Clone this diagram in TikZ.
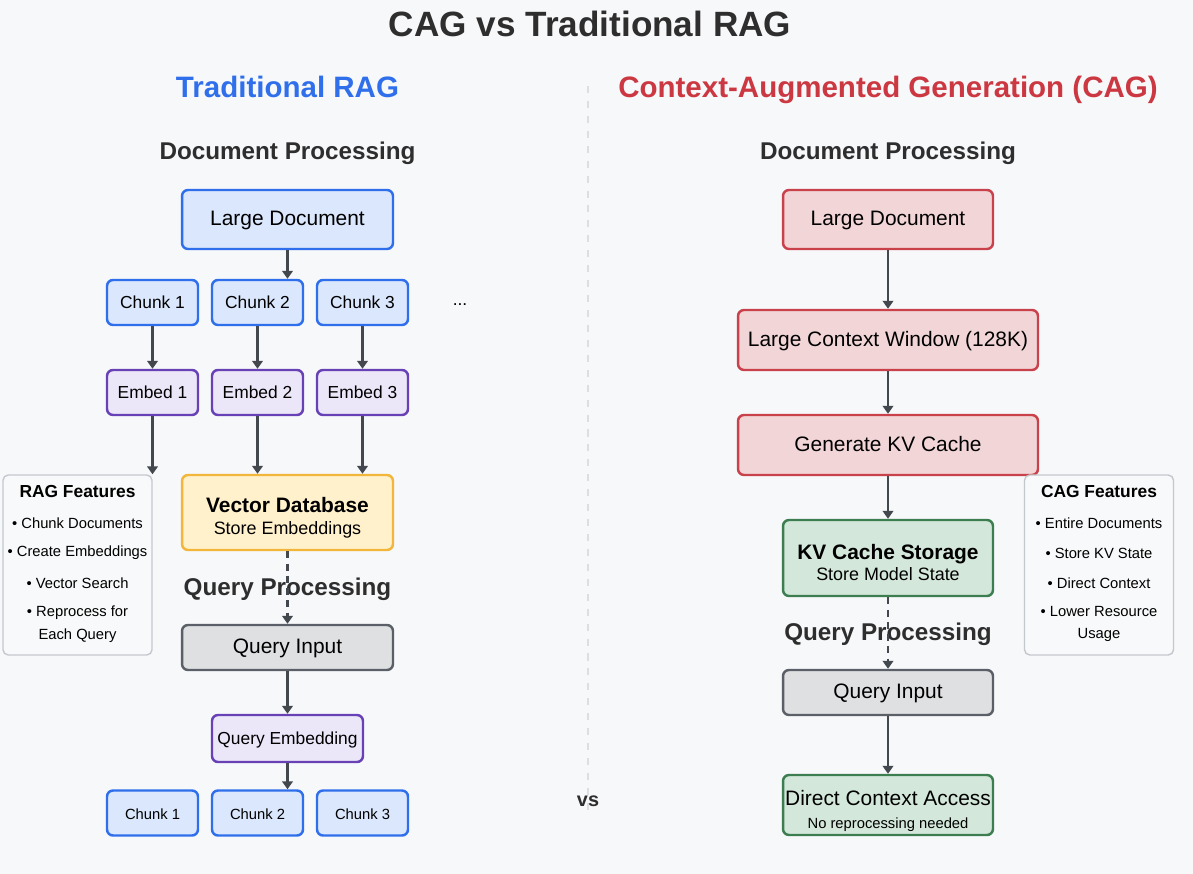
\documentclass[tikz,border=0pt]{standalone}
\usepackage{fontspec}
\setmainfont{Liberation Sans}
\usepackage{tikz}
\usetikzlibrary{arrows.meta}
\usetikzlibrary{positioning}

\definecolor{bgcol}{HTML}{F7F8FA}
\definecolor{ragblue}{HTML}{2F6FEB}
\definecolor{ragbluefill}{HTML}{DAE7FC}
\definecolor{embpurple}{HTML}{6741B5}
\definecolor{embpurplefill}{HTML}{EBE6F8}
\definecolor{dbyellow}{HTML}{F2B63A}
\definecolor{dbyellowfill}{HTML}{FFF1CC}
\definecolor{cagred}{HTML}{C8414B}
\definecolor{cagredfill}{HTML}{F2D5D7}
\definecolor{cagtitle}{HTML}{CC3841}
\definecolor{kvgreen}{HTML}{3C7E50}
\definecolor{kvgreenfill}{HTML}{D3E7DA}
\definecolor{qgray}{HTML}{5B6068}
\definecolor{qgrayfill}{HTML}{DFE0E2}
\definecolor{arrowgray}{HTML}{43474E}
\definecolor{headgray}{HTML}{2E2E2E}
\definecolor{featgray}{HTML}{C4C7CC}
\definecolor{featfill}{HTML}{F8F9FA}
\definecolor{sepgray}{HTML}{DDDEE1}

\newcommand{\ftitle}{\fontsize{20}{24}\selectfont\bfseries}
\newcommand{\fcol}{\fontsize{16.8}{20}\selectfont\bfseries}
\newcommand{\fhead}{\fontsize{13.8}{16}\selectfont\bfseries}
\newcommand{\fmain}{\fontsize{11.9}{13}\selectfont}
\newcommand{\fsub}{\fontsize{10.2}{12}\selectfont}
\newcommand{\fchunk}{\fontsize{9.9}{12}\selectfont}
\newcommand{\fsmall}{\fontsize{8.4}{10}\selectfont}

\begin{document}
\begin{tikzpicture}
  [x=0.02cm,y=-0.02cm,
  box/.style={draw,rounded corners=3.4pt,line width=1.4pt,align=center,inner sep=1pt,text=black},
  oneline/.style={text height=0.9em,text depth=0.21em},
  bluebox/.style={box,draw=ragblue,fill=ragbluefill},
  purplebox/.style={box,draw=embpurple,fill=embpurplefill},
  redbox/.style={box,oneline,draw=cagred,fill=cagredfill,font=\fmain},
  greenbox/.style={box,draw=kvgreen,fill=kvgreenfill},
  graybox/.style={box,oneline,draw=qgray,fill=qgrayfill,font=\fmain},
  chunkbox/.style={bluebox,oneline,minimum width=1.82cm,minimum height=0.9cm,font=\fchunk},
  embedbox/.style={purplebox,oneline,minimum width=1.82cm,minimum height=0.9cm,font=\fchunk},
  featbox/.style={draw=featgray,fill=featfill,rounded corners=3pt,line width=0.8pt,minimum width=2.98cm,minimum height=3.6cm},
  feattitle/.style={font=\fchunk\bfseries,text=black},
  featitem/.style={font=\fsmall,text=black,align=center},
  head/.style={font=\fhead,text=headgray},
  arr/.style={-{Triangle[width=6pt,length=4.5pt]},line width=1.3pt,draw=arrowgray},
  dasharr/.style={arr,dash pattern=on 4pt off 3pt}]

  \fill[bgcol] (0,0) rectangle (1193,874);
  \useasboundingbox (0,0) rectangle (1193,874);

  \node[font=\ftitle,text=headgray,anchor=base] (title) at (590,37) {CAG vs Traditional RAG};
  \node[font=\fcol,text=ragblue,anchor=base] (ragtitle) at (287.5,98) {Traditional RAG};
  \node[font=\fcol,text=cagtitle,anchor=base] (cagtitle) at (888,98) {Context-Augmented Generation (CAG)};

  \draw[sepgray,line width=1.6pt,dash pattern=on 4pt off 4.5pt] (588,86) -- (588,812);
  \node[font=\fontsize{11.3}{13}\selectfont\bfseries,text=headgray] (vs) at (588,801) {vs};

  \node[head,anchor=base] (ragdochead) at (287.5,160) {Document Processing};
  \node[bluebox,oneline,font=\fmain,minimum width=4.22cm,minimum height=1.18cm] (ragdoc) at (287.5,219.5) {Large Document};

  \node[chunkbox] (chk1) at (152.5,302.5) {Chunk 1};
  \node[chunkbox] (chk2) at (257.5,302.5) {Chunk 2};
  \node[chunkbox] (chk3) at (362.5,302.5) {Chunk 3};
  \node[font=\fchunk,text=black] (dots) at (460,305) {...};

  \node[embedbox] (emb1) at (152.5,392.5) {Embed 1};
  \node[embedbox] (emb2) at (257.5,392.5) {Embed 2};
  \node[embedbox] (emb3) at (362.5,392.5) {Embed 3};

  \node[featbox] (ragfeat) at (77.5,565) {};
  \node[feattitle] (ragft) at (77.5,492) {RAG Features};
  \node[featitem] (ragf1) at (77.5,523) {• Chunk Documents};
  \node[featitem] (ragf2) at (77.5,553) {• Create Embeddings};
  \node[featitem] (ragf3) at (77.5,583) {• Vector Search};
  \node[featitem] (ragf4) at (77.5,624) {• Reprocess for\\[3pt]Each Query};

  \node[box,draw=dbyellow,fill=dbyellowfill,minimum width=4.22cm,minimum height=1.5cm] (vecdb) at (287.5,512.5)
    {\rule{0pt}{14.3pt}{\fmain\bfseries Vector Database}\\[0.4pt]{\fsub Store Embeddings}};

  \node[head] (ragqhead) at (287.5,589) {Query Processing};
  \node[graybox,minimum width=4.22cm,minimum height=0.9cm] (ragq) at (287.5,647.5) {Query Input};
  \node[purplebox,oneline,font=\fchunk,minimum width=3.02cm,minimum height=0.94cm] (qemb) at (287.5,738.5) {Query Embedding};

  \node[chunkbox,font=\fsmall] (res1) at (152.5,813) {Chunk 1};
  \node[chunkbox,font=\fsmall] (res2) at (257.5,813) {Chunk 2};
  \node[chunkbox,font=\fsmall] (res3) at (362.5,813) {Chunk 3};

  \draw[arr] (ragdoc.south) -- (ragdoc.south |- chk2.north);
  \draw[arr] (chk1) -- (emb1);
  \draw[arr] (chk2) -- (emb2);
  \draw[arr] (chk3) -- (emb3);
  \draw[arr] (emb1.south) -- (emb1.south |- ragfeat.north);
  \draw[arr] (emb2.south) -- (emb2.south |- vecdb.north);
  \draw[arr] (emb3.south) -- (emb3.south |- vecdb.north);
  \draw[dasharr] (vecdb) -- (ragq);
  \draw[arr] (ragq) -- (qemb);
  \draw[arr] (qemb.south) -- (qemb.south |- res2.north);

  \node[head,anchor=base] (cagdochead) at (888,160) {Document Processing};
  \node[redbox,minimum width=4.2cm,minimum height=1.18cm] (cagdoc) at (888,219.5) {Large Document};
  \node[redbox,minimum width=6.0cm,minimum height=1.2cm] (ctxwin) at (888,340) {Large Context Window (128K)};
  \node[redbox,minimum width=6.0cm,minimum height=1.2cm] (genkv) at (888,445) {Generate KV Cache};
  \node[greenbox,minimum width=4.2cm,minimum height=1.52cm] (kvstore) at (888,558)
    {\rule{0pt}{13.8pt}{\fmain\bfseries KV Cache Storage}\\[0.4pt]{\fsub Store Model State}};

  \node[featbox] (cagfeat) at (1099,565) {};
  \node[feattitle] (cagft) at (1099,492) {CAG Features};
  \node[featitem] (cagf1) at (1099,523) {• Entire Documents};
  \node[featitem] (cagf2) at (1099,553) {• Store KV State};
  \node[featitem] (cagf3) at (1099,583) {• Direct Context};
  \node[featitem] (cagf4) at (1099,624) {• Lower Resource\\[3pt]Usage};

  \node[head] (cagqhead) at (888,634) {Query Processing};
  \node[graybox,minimum width=4.2cm,minimum height=0.9cm] (cagq) at (888,692.5) {Query Input};
  \node[greenbox,minimum width=4.2cm,minimum height=1.2cm] (direct) at (888,805)
    {\rule{0pt}{15.5pt}{\fmain Direct Context Access}\\[1.2pt]{\fsmall No reprocessing needed}};

  \draw[arr] (cagdoc) -- (ctxwin);
  \draw[arr] (ctxwin) -- (genkv);
  \draw[arr] (genkv) -- (kvstore);
  \draw[dasharr] (kvstore) -- (cagq);
  \draw[arr] (cagq) -- (direct);

\end{tikzpicture}
\end{document}
